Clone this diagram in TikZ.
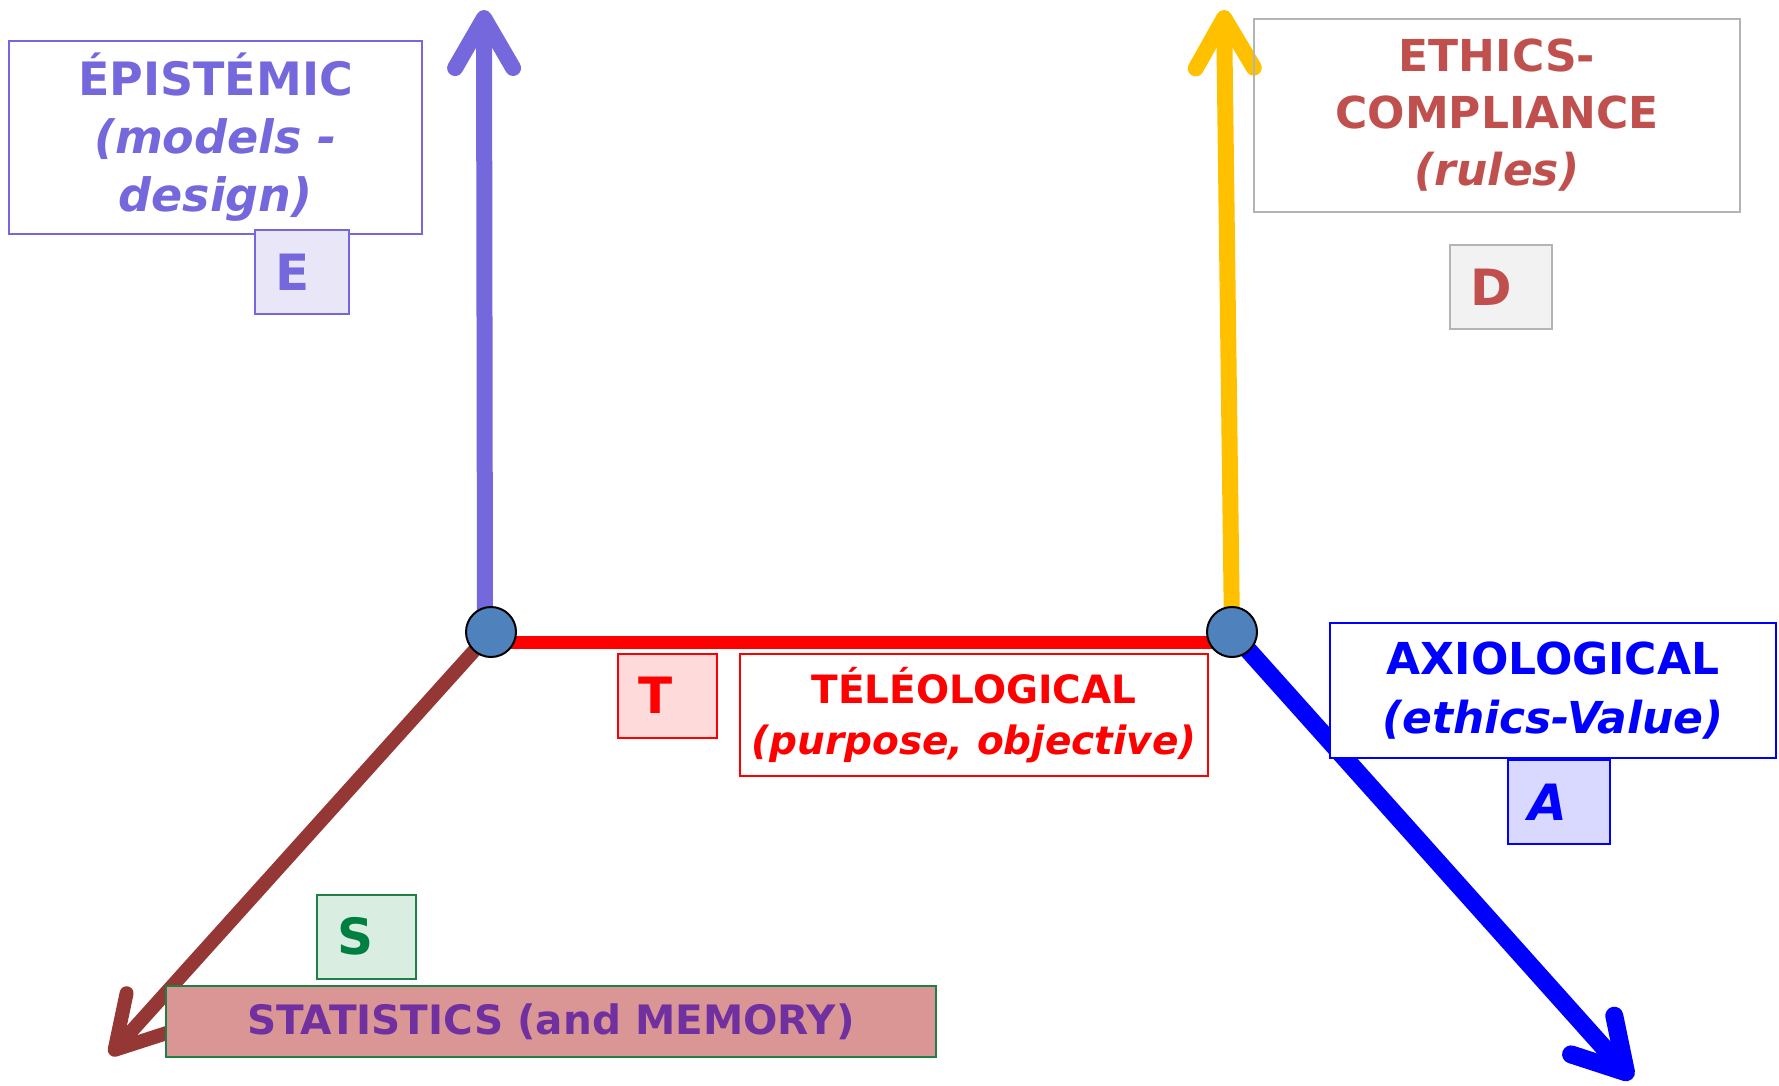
\documentclass[tikz,border=0pt]{standalone}
\usepackage{fontspec}
\setmainfont{DejaVu Sans}
\usetikzlibrary{arrows.meta,backgrounds}

\definecolor{epicol}{HTML}{7468DC}
\definecolor{epifill}{HTML}{E9E6F8}
\definecolor{ethcol}{HTML}{C0504D}
\definecolor{graybd}{HTML}{B4B4B4}
\definecolor{dfill}{HTML}{F2F2F2}
\definecolor{telcol}{HTML}{FF0000}
\definecolor{tfill}{HTML}{FFDADA}
\definecolor{axicol}{HTML}{0000FF}
\definecolor{afill}{HTML}{D9D9FF}
\definecolor{scol}{HTML}{008040}
\definecolor{sbd}{HTML}{1E8045}
\definecolor{sfill}{HTML}{D9EDE0}
\definecolor{statfill}{HTML}{D99694}
\definecolor{statcol}{HTML}{7030A0}
\definecolor{brown}{HTML}{953735}
\definecolor{gold}{HTML}{FFC000}
\definecolor{hubblue}{HTML}{4F81BD}

\tikzset{
  labelbox/.style={draw, line width=2pt, align=center, inner sep=0pt},
  letterbox/.style={draw, line width=2pt, align=left, inner ysep=0pt,
    inner xsep=20pt, minimum height=84pt,
    font=\fontsize{50}{60}\selectfont\bfseries},
  axisarrow/.style={line cap=round,
    -{Straight Barb[length=50pt,width=58pt,round]}},
  hub/.style={circle, draw=black, line width=2pt, fill=hubblue,
    minimum size=50pt, inner sep=0pt},
}

\begin{document}
\begin{tikzpicture}[x=1pt,y=-1pt]
\useasboundingbox (0,0) rectangle (1779,1085);

% the two hubs
\node[hub] (L) at (491,632) {};
\node[hub] (R) at (1232,632) {};

% free ends of the four axes
\coordinate (Etip) at (484,10);
\coordinate (Dtip) at (1224,10);
\coordinate (Atip) at (1632,1079);
\coordinate (Stip) at (110,1055);

% axes and the link between hubs, behind the hubs
\begin{scope}[on background layer]
  \draw[axisarrow, epicol, line width=16pt] ([xshift=-6pt]L.center) -- (Etip);
  \draw[axisarrow, gold, line width=16pt] (R.center) -- (Dtip);
  \draw[axisarrow, axicol, line width=18pt] (R.center) -- (Atip);
  \draw[axisarrow, brown, line width=14pt] (L.center) -- (Stip);
  \draw[telcol, line width=13pt] ([yshift=-10pt]L.center) -- ([yshift=-10pt]R.center);
\end{scope}

% epistemic
\node[labelbox, draw=epicol, line width=1.5pt, text=epicol,
  minimum width=413pt, minimum height=193pt,
  font=\fontsize{46}{58}\selectfont\bfseries] (epi) at (215.5,137.5)
  {ÉPISTÉMIC\\{\itshape (models -}\\{\itshape design)}};
\node[letterbox, draw=epicol, fill=epifill, text=epicol,
  text width=54pt] (E) at (302,272) {E};

% ethics / compliance
\node[labelbox, draw=graybd, text=ethcol,
  minimum width=486pt, minimum height=193pt,
  font=\fontsize{44}{57}\selectfont\bfseries] (eth) at (1497,115.5)
  {ETHICS-\\COMPLIANCE\\{\itshape (rules)}};
\node[letterbox, draw=graybd, fill=dfill, text=ethcol,
  text width=62pt] (D) at (1501,287) {D};

% teleological
\node[letterbox, draw=telcol, fill=tfill, text=telcol,
  text width=59pt] (T) at (667.5,695.5) {T};
\node[labelbox, draw=telcol, text=telcol,
  minimum width=468pt, minimum height=122pt,
  font=\fontsize{39}{51}\selectfont\bfseries] (tel) at (974,715)
  {TÉLÉOLOGICAL\\{\itshape (purpose, objective)}};

% axiological
\node[labelbox, draw=axicol, text=axicol, fill=white,
  minimum width=446pt, minimum height=135pt,
  font=\fontsize{44}{59}\selectfont\bfseries] (axi) at (1553,690.5)
  {AXIOLOGICAL\\{\itshape (ethics-Value)}};
\node[letterbox, draw=axicol, fill=afill, text=axicol,
  text width=62pt] (A) at (1559,802) {\itshape A};

% statistics
\node[letterbox, draw=sbd, fill=sfill, text=scol,
  text width=59pt] (S) at (366.5,936.5) {S};
\node[labelbox, draw=sbd, fill=statfill, text=statcol,
  minimum width=770pt, minimum height=71pt,
  font=\fontsize{40.5}{48}\selectfont\bfseries] (stat) at (551,1021.5)
  {STATISTICS (and MEMORY)};
\end{tikzpicture}
\end{document}
